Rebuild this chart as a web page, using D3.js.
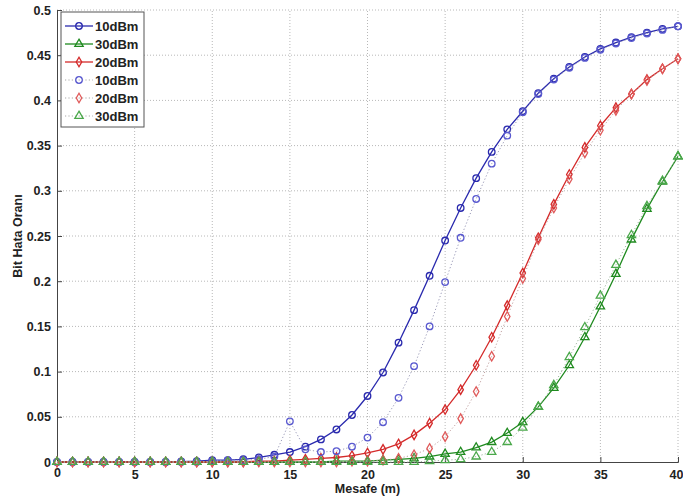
<!DOCTYPE html>
<html lang="en">
<head>
<meta charset="UTF-8">
<script src="https://cdnjs.cloudflare.com/ajax/libs/d3/7.8.5/d3.min.js"></script>
<style>
    body { margin: 0; background: #fff; }
    text { font-family: "Liberation Sans", Arial, sans-serif; font-weight: bold; fill: #222; }
</style>
</head>
<body>
<div id="chart"></div>
<script>
    // distances (m)
    var mesafe = d3.range(0, 41);

    // bit error rates
    var solid10 = [0,0,0,0,0,0,0,0,0.0005,0.001,
        0.002,0.002,0.003,0.005,0.008,0.011,0.017,0.025,0.036,0.052,
        0.073,0.099,0.132,0.168,0.206,0.245,0.281,0.314,0.343,0.368,
        0.388,0.408,0.424,0.437,0.448,0.457,0.464,0.470,0.475,0.479,0.482];
    var solid30 = [0,0,0,0,0,0,0,0,0,0,
        0,0,0,0,0,0,0,0,0.001,0.001,
        0.001,0.002,0.003,0.004,0.006,0.009,0.011,0.016,0.022,0.032,
        0.044,0.061,0.082,0.107,0.138,0.172,0.208,0.246,0.280,0.310,0.338];
    var solid20 = [0,0,0,0,0,0,0,0,0,0,
        0,0,0,0.001,0.001,0.002,0.003,0.004,0.005,0.007,
        0.010,0.014,0.020,0.030,0.043,0.058,0.080,0.107,0.138,0.173,
        0.209,0.248,0.285,0.318,0.348,0.372,0.392,0.407,0.423,0.435,0.446];
    var dotted10 = [0,0,0,0,0,0,0,0,0,0,
        0.001,0.002,0.002,0.003,0.006,0.045,0.014,0.011,0.012,0.017,
        0.027,0.044,0.071,0.106,0.150,0.199,0.248,0.291,0.330,0.361,
        0.387,0.407,0.423,0.436,0.447,0.456,0.463,0.469,0.474,0.478,0.482];
    var dotted20 = [0,0,0,0,0,0,0,0,0,0,
        0,0,0,0,0,0,0,0,0,0.001,
        0.001,0.002,0.004,0.008,0.015,0.028,0.048,0.078,0.117,0.161,
        0.203,0.246,0.281,0.313,0.342,0.367,0.389,0.407,0.422,0.435,0.446];
    var dotted30 = [0,0,0,0,0,0,0,0,0,0,
        0,0,0,0,0,0,0,0,0,0,
        0,0,0,0,0.001,0.002,0.003,0.006,0.011,0.022,
        0.038,0.061,0.085,0.116,0.149,0.184,0.218,0.251,0.283,0.311,0.338];

    var xTicks = [0, 5, 10, 15, 20, 25, 30, 35, 40];
    var yTicks = [0, 0.05, 0.1, 0.15, 0.2, 0.25, 0.3, 0.35, 0.4, 0.45, 0.5];

    var seriesNames = ["10dBm", "30dBm", "20dBm", "10dBm", "20dBm", "30dBm"];
    var seriesData = [solid10, solid30, solid20, dotted10, dotted20, dotted30];

    // looks of each series (same order as above)
    var styles = [
        {color: "#2a2aae", line: "#2a2aae", dash: null, marker: "circle"},
        {color: "#1f8a1f", line: "#1f8a1f", dash: null, marker: "triangle"},
        {color: "#d42a2a", line: "#d42a2a", dash: null, marker: "diamond"},
        {color: "#5a5ad0", line: "#9a9ab8", dash: "1.2,2.2", marker: "circle"},
        {color: "#e05a5a", line: "#c0a0a0", dash: "1.2,2.2", marker: "diamond"},
        {color: "#4aa84a", line: "#a0b8a0", dash: "1.2,2.2", marker: "triangle"}
    ];

    var w = 683, h = 497;
    var margin = {top: 10, right: 5, bottom: 35, left: 57};

    var svg = d3.select("#chart").append("svg")
        .attr("width", w)
        .attr("height", h);

    var xScale = d3.scaleLinear().domain([0, 40]).range([margin.left, w - margin.right]);
    var yScale = d3.scaleLinear().domain([0, 0.5]).range([h - margin.bottom, margin.top]);

    // grid
    var grid = svg.append("g");
    grid.selectAll(".gx").data(xTicks.slice(1)).enter().append("line")
        .attr("x1", function(d) { return xScale(d); })
        .attr("x2", function(d) { return xScale(d); })
        .attr("y1", yScale(0)).attr("y2", yScale(0.5))
        .attr("stroke", "#b8b8b8").attr("stroke-width", 1).attr("stroke-dasharray", "1,2");
    grid.selectAll(".gy").data(yTicks.slice(1)).enter().append("line")
        .attr("y1", function(d) { return yScale(d); })
        .attr("y2", function(d) { return yScale(d); })
        .attr("x1", xScale(0)).attr("x2", xScale(40))
        .attr("stroke", "#b8b8b8").attr("stroke-width", 1).attr("stroke-dasharray", "1,2");

    // axes
    var xAxis = d3.axisBottom(xScale).tickValues(xTicks).tickSize(-5).tickPadding(8).tickFormat(d3.format("d"));
    var yAxis = d3.axisLeft(yScale).tickValues(yTicks).tickSize(-5).tickPadding(6)
        .tickFormat(function(d) { return d === 0 ? "0" : String(+d.toFixed(2)); });

    var gx = svg.append("g")
        .attr("transform", "translate(0," + (h - margin.bottom) + ")")
        .call(xAxis);
    var gy = svg.append("g")
        .attr("transform", "translate(" + margin.left + ",0)")
        .call(yAxis);

    [gx, gy].forEach(function(g) {
        g.select(".domain").attr("stroke", "#444");
        g.selectAll(".tick line").attr("stroke", "#444");
        g.selectAll(".tick text").attr("font-size", 12.5).attr("fill", "#222")
            .style("font-family", "'Liberation Sans', Arial, sans-serif").style("font-weight", "bold");
    });
    gx.select(".tick text").attr("dy", "0.55em");
    // last label sits at the right edge, keep it inside
    gx.selectAll(".tick text").filter(function(d) { return d === 40; })
        .attr("text-anchor", "end").attr("dx", "5");

    // axis titles
    svg.append("text")
        .attr("x", (xScale(0) + xScale(40)) / 2)
        .attr("y", h - 4)
        .attr("text-anchor", "middle")
        .attr("font-size", 12.5)
        .text("Mesafe (m)");

    svg.append("text")
        .attr("transform", "translate(22," + yScale(0.25) + ") rotate(-90)")
        .attr("text-anchor", "middle")
        .attr("font-size", 12.5)
        .text("Bit Hata Oranı");

    // marker shapes
    var symbolFor = {
        circle: d3.symbol().type(d3.symbolCircle).size(34),
        triangle: d3.symbol().type(d3.symbolTriangle).size(30),
        diamond: d3.symbol().type(d3.symbolDiamond).size(26)
    };

    function drawMarker(g, st, x, y) {
        return g.append("path")
            .attr("d", symbolFor[st.marker]())
            .attr("transform", "translate(" + x + "," + y + ")")
            .attr("fill", "none")
            .attr("stroke", st.color)
            .attr("stroke-width", 1.3);
    }

    var line = d3.line()
        .x(function(d, i) { return xScale(mesafe[i]); })
        .y(function(d) { return yScale(d); });

    seriesData.forEach(function(vals, k) {
        var st = styles[k];
        var g = svg.append("g");
        g.append("path")
            .datum(vals)
            .attr("d", line)
            .attr("fill", "none")
            .attr("stroke", st.line)
            .attr("stroke-width", st.dash ? 1 : 1.3)
            .attr("stroke-dasharray", st.dash);
        vals.forEach(function(v, i) {
            drawMarker(g, st, xScale(mesafe[i]), yScale(v));
        });
    });

    // legend
    var lg = svg.append("g").attr("transform", "translate(61,12)");
    lg.append("rect")
        .attr("width", 83).attr("height", 115)
        .attr("fill", "#fff").attr("stroke", "#555").attr("stroke-width", 1);

    seriesNames.forEach(function(name, k) {
        var st = styles[k];
        var yy = 14 + k * 18;
        lg.append("line")
            .attr("x1", 4).attr("x2", 32).attr("y1", yy).attr("y2", yy)
            .attr("stroke", st.dash ? "#aaa" : st.line)
            .attr("stroke-width", st.dash ? 1.2 : 1.3)
            .attr("stroke-dasharray", st.dash);
        drawMarker(lg, st, 18, yy);
        lg.append("text")
            .attr("x", 34).attr("y", yy + 4.5)
            .attr("font-size", 13)
            .text(name);
    });
</script>
</body>
</html>
